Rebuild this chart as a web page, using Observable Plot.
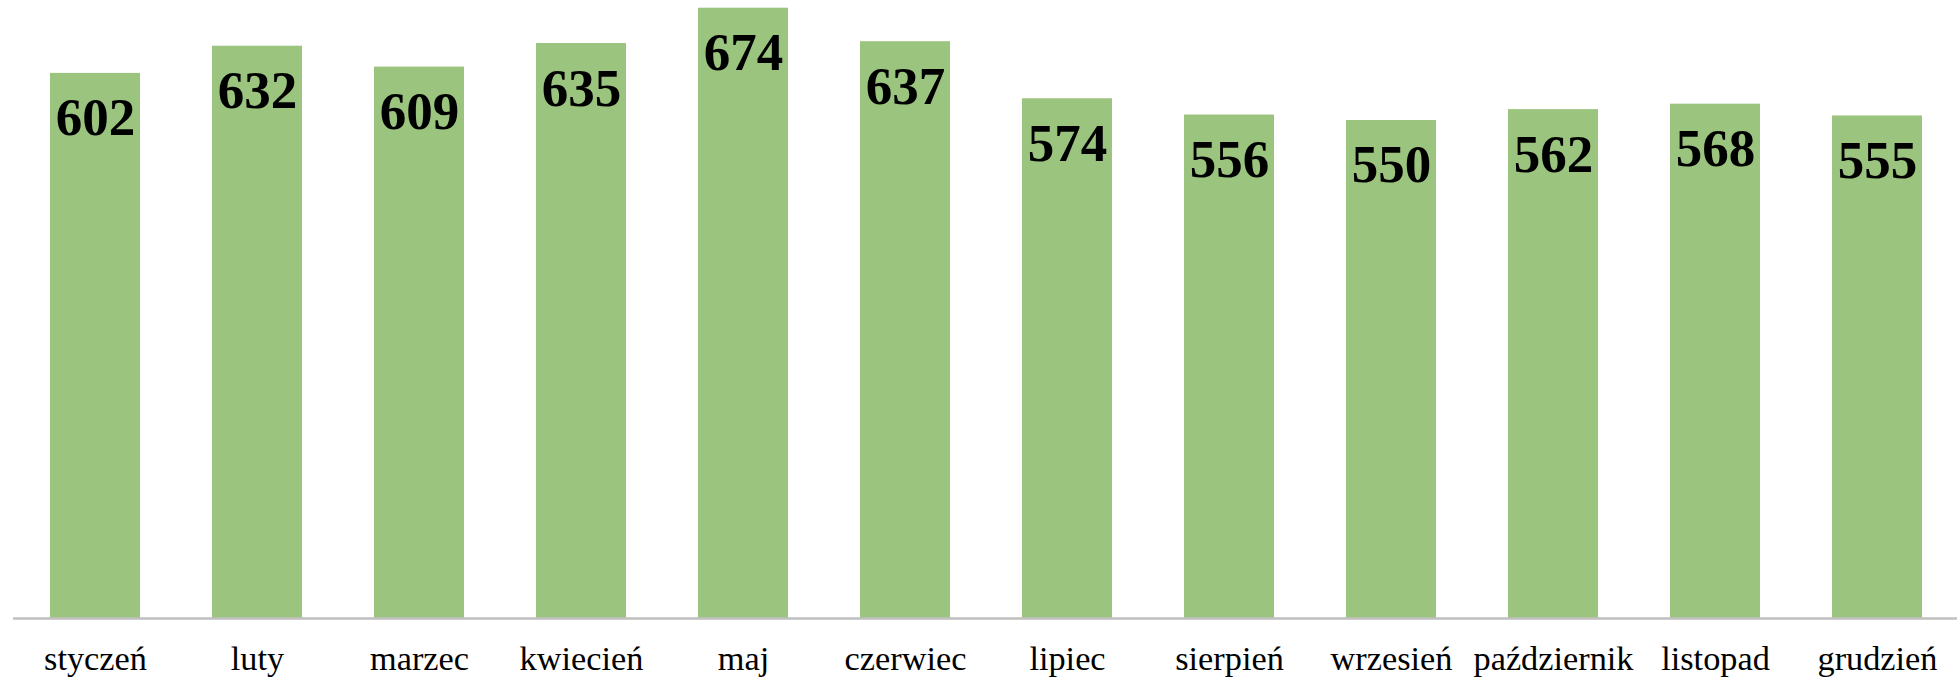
<!DOCTYPE html>
<html>
<head>
<meta charset="utf-8">
<script src="https://cdn.jsdelivr.net/npm/d3@7"></script>
<script src="https://cdn.jsdelivr.net/npm/@observablehq/plot@0.6"></script>
<style>
  html, body { margin: 0; padding: 0; background: #fff; }
</style>
</head>
<body>
<div id="chart"></div>
<script>
const months = ["styczeń","luty","marzec","kwiecień","maj","czerwiec","lipiec","sierpień","wrzesień","październik","listopad","grudzień"];
const values = [602,632,609,635,674,637,574,556,550,562,568,555];

const data = months.map((m, i) => ({month: m, value: values[i]}));
const serif = "Liberation Serif, Tinos, 'Times New Roman', serif";

const chart = Plot.plot({
  width: 1957,
  height: 680,
  marginTop: 0,
  marginBottom: 62,
  marginLeft: 13,
  marginRight: -2,
  style: {fontFamily: serif, background: "#fff", color: "#000"},
  x: {domain: months, paddingInner: 0.445, paddingOuter: 0.2225, label: null},
  y: {domain: [0, 682.5], axis: null},
  marks: [
    Plot.barY(data, {x: "month", y: "value", fill: "#9bc57f"}),
    Plot.ruleY([0], {stroke: "#bfbfbf", strokeWidth: 2.5}),
    Plot.text(data, {x: "month", y: "value", text: d => String(d.value), lineAnchor: "bottom", dy: 62, fontSize: 53, fontWeight: "bold", fontFamily: serif, fill: "#000"}),
    Plot.axisX({tickSize: 0, tickPadding: 27.5, fontSize: 34.3, fontFamily: serif, label: null, fill: "#000"})
  ]
});
document.getElementById("chart").appendChild(chart);
</script>
</body>
</html>
